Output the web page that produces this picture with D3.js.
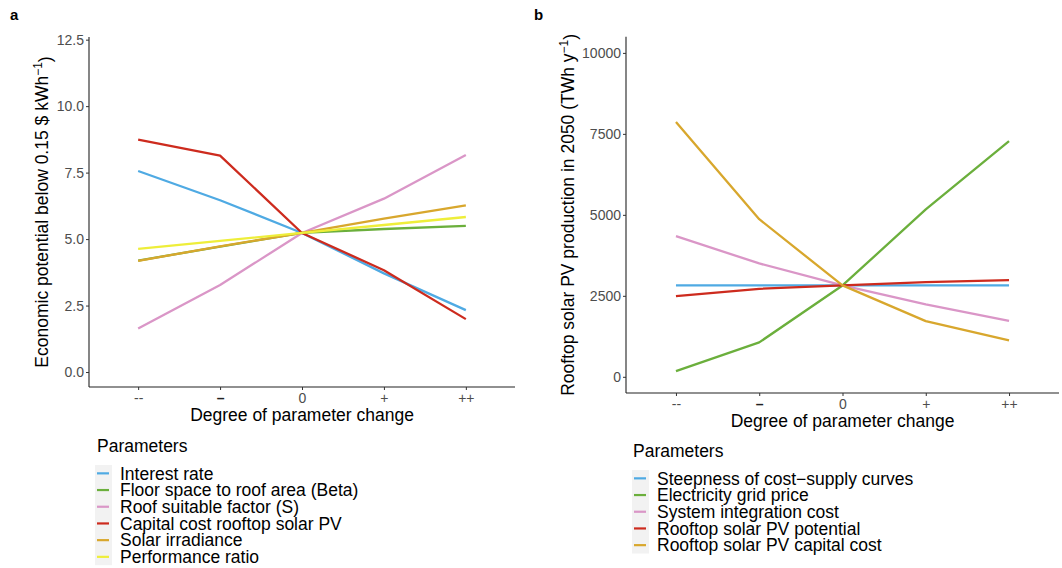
<!DOCTYPE html>
<html>
<head>
<meta charset="utf-8">
<script src="https://cdn.jsdelivr.net/npm/d3@7"></script>
<style>
  body { margin: 0; background: #fff; }
  svg { font-family: "Liberation Sans", Arial, Helvetica, sans-serif; }
</style>
</head>
<body>
<svg id="chart" width="1062" height="568"></svg>
<script>
// ---------- data ----------
const categories = ["--", "–", "0", "+", "++"];

// Panel a: economic potential below 0.15 $/kWh
const seriesA = ["Interest rate", "Floor space to roof area (Beta)", "Roof suitable factor (S)",
                 "Capital cost rooftop solar PV", "Solar irradiance", "Performance ratio"];
const colorsA = ["#4FAAE3", "#6BAF3C", "#DA96C7", "#CD2B1E", "#D8A72D", "#EEEE3A"];
const interestRate   = [7.56, 6.46, 5.23, 3.71, 2.33];
const floorSpace     = [4.19, 4.72, 5.23, 5.38, 5.50];
const roofSuitable   = [1.64, 3.27, 5.23, 6.52, 8.16];
const capitalCostA   = [8.74, 8.14, 5.23, 3.83, 1.99];
const solarIrrad     = [4.18, 4.73, 5.23, 5.77, 6.27];
const perfRatio      = [4.63, 4.93, 5.23, 5.53, 5.83];
const valuesA = [interestRate, floorSpace, roofSuitable, capitalCostA, solarIrrad, perfRatio];
const ticksA = [0, 2.5, 5, 7.5, 10, 12.5];

// Panel b: rooftop solar PV production in 2050
const seriesB = ["Steepness of cost\u2212supply curves", "Electricity grid price", "System integration cost",
                 "Rooftop solar PV potential", "Rooftop solar PV capital cost"];
const colorsB = ["#4FAAE3", "#6BAF3C", "#DA96C7", "#CD2B1E", "#D8A72D"];
const steepness      = [2821, 2821, 2821, 2821, 2821];
const gridPrice      = [176, 1062, 2821, 5167, 7275];
const integration    = [4343, 3500, 2821, 2235, 1728];
const pvPotential    = [2491, 2716, 2821, 2923, 2985];
const capitalCostB   = [7870, 4867, 2821, 1719, 1123];
const valuesB = [steepness, gridPrice, integration, pvPotential, capitalCostB];
const ticksB = [0, 2500, 5000, 7500, 10000];

// ---------- drawing ----------
const svg = d3.select("#chart");

function panel(cfg) {
  const x = d3.scalePoint().domain(categories).range([cfg.x0, cfg.x1]).padding(0.6);
  const y = d3.scaleLinear().domain(cfg.yDomain).range([cfg.yBottom, cfg.yTop]);
  const g = svg.append("g");

  // lines
  const line = d3.line().x((d, i) => x(categories[i])).y(d => y(d));
  cfg.values.forEach((vals, k) => {
    g.append("path").attr("d", line(vals)).attr("fill", "none")
      .attr("stroke", cfg.colors[k]).attr("stroke-width", 2.3)
      .attr("stroke-linejoin", "round").attr("stroke-linecap", "butt");
  });

  // y axis
  const yAxis = d3.axisLeft(y).tickValues(cfg.yTicks).tickSize(3).tickPadding(2)
    .tickFormat(cfg.yFormat);
  const ya = g.append("g").attr("transform", `translate(${cfg.x0},0)`).call(yAxis);
  ya.select(".domain").attr("d", `M0,${cfg.yBottom}V${cfg.yTop}`).attr("stroke", "#222").attr("stroke-width", 1.1);
  ya.selectAll(".tick line").attr("stroke", "#333");
  ya.selectAll(".tick text").attr("fill", "#4D4D4D").attr("font-size", cfg.tickSize + "px")
    .attr("font-family", "Liberation Sans, Arial, sans-serif");

  // x axis
  const xAxis = d3.axisBottom(x).tickSize(3).tickPadding(cfg.xTickPad);
  const xa = g.append("g").attr("transform", `translate(0,${cfg.yBottom})`).call(xAxis);
  xa.select(".domain").attr("d", `M${cfg.x0},0H${cfg.x1}`).attr("stroke", "#222").attr("stroke-width", 1.1);
  xa.selectAll(".tick line").attr("stroke", "#333");
  xa.selectAll(".tick text").attr("fill", "#4D4D4D").attr("font-size", "14px")
    .attr("font-family", "Liberation Sans, Arial, sans-serif")
    .attr("font-weight", d => d === "–" ? "bold" : "normal")
    .attr("fill", d => d === "–" ? "#222" : "#4D4D4D");

  // axis titles
  g.append("text").attr("x", (cfg.x0 + cfg.x1) / 2).attr("y", cfg.xTitleY)
    .attr("text-anchor", "middle").attr("font-size", "17.5px").attr("fill", "#000")
    .text("Degree of parameter change");

  const yt = g.append("text")
    .attr("transform", `translate(${cfg.yTitleX},${(cfg.yTop + cfg.yBottom) / 2}) rotate(-90)`)
    .attr("text-anchor", "middle").attr("font-size", "17.5px").attr("fill", "#000");
  yt.append("tspan").text(cfg.yTitle[0]);
  yt.append("tspan").attr("dy", "-0.5em").attr("font-size", "12px").text("\u22121");
  yt.append("tspan").attr("dy", "0.5em").text(")");

  // panel label
  svg.append("text").attr("x", cfg.labelX).attr("y", 20).attr("font-weight", "bold")
    .attr("font-size", "15px").text(cfg.label);

  // legend
  const lg = svg.append("g");
  lg.append("text").attr("x", cfg.legX).attr("y", cfg.legTitleY).attr("font-size", "17.5px")
    .attr("fill", "#000").text("Parameters");
  const keyH = 16.7;
  const kx = cfg.legKeyX;
  lg.append("rect").attr("x", kx).attr("y", cfg.legTop).attr("width", 17)
    .attr("height", keyH * cfg.series.length).attr("fill", "#F2F2F2");
  cfg.series.forEach((name, k) => {
    const cy = cfg.legTop + keyH * (k + 0.5);
    lg.append("line").attr("x1", kx + 2).attr("x2", kx + 14).attr("y1", cy).attr("y2", cy)
      .attr("stroke", cfg.colors[k]).attr("stroke-width", 2.2);
    lg.append("text").attr("x", kx + 25).attr("y", cy).attr("dy", "0.36em")
      .attr("font-size", "17.5px").attr("fill", "#000").text(name);
  });
}

panel({
  x0: 89, x1: 515, yTop: 37, yBottom: 387, yDomain: [-0.563, 12.6],
  values: valuesA, colors: colorsA, series: seriesA, yTicks: ticksA,
  yFormat: d3.format(".1f"), tickSize: 14, xTickPad: 3,
  xTitleY: 420.5, yTitleX: 48,
  yTitle: ["Economic potential below 0.15 $ kWh"],
  label: "a", labelX: 10,
  legX: 97, legTitleY: 452, legTop: 465, legKeyX: 95
});

panel({
  x0: 626, x1: 1059, yTop: 36.7, yBottom: 393, yDomain: [-500, 10500],
  values: valuesB, colors: colorsB, series: seriesB, yTicks: ticksB,
  yFormat: d3.format("d"), tickSize: 14, xTickPad: 3,
  xTitleY: 427, yTitleX: 573.5,
  yTitle: ["Rooftop solar PV production in 2050 (TWh y"],
  label: "b", labelX: 534,
  legX: 633, legTitleY: 457, legTop: 470, legKeyX: 632
});
</script>
</body>
</html>
